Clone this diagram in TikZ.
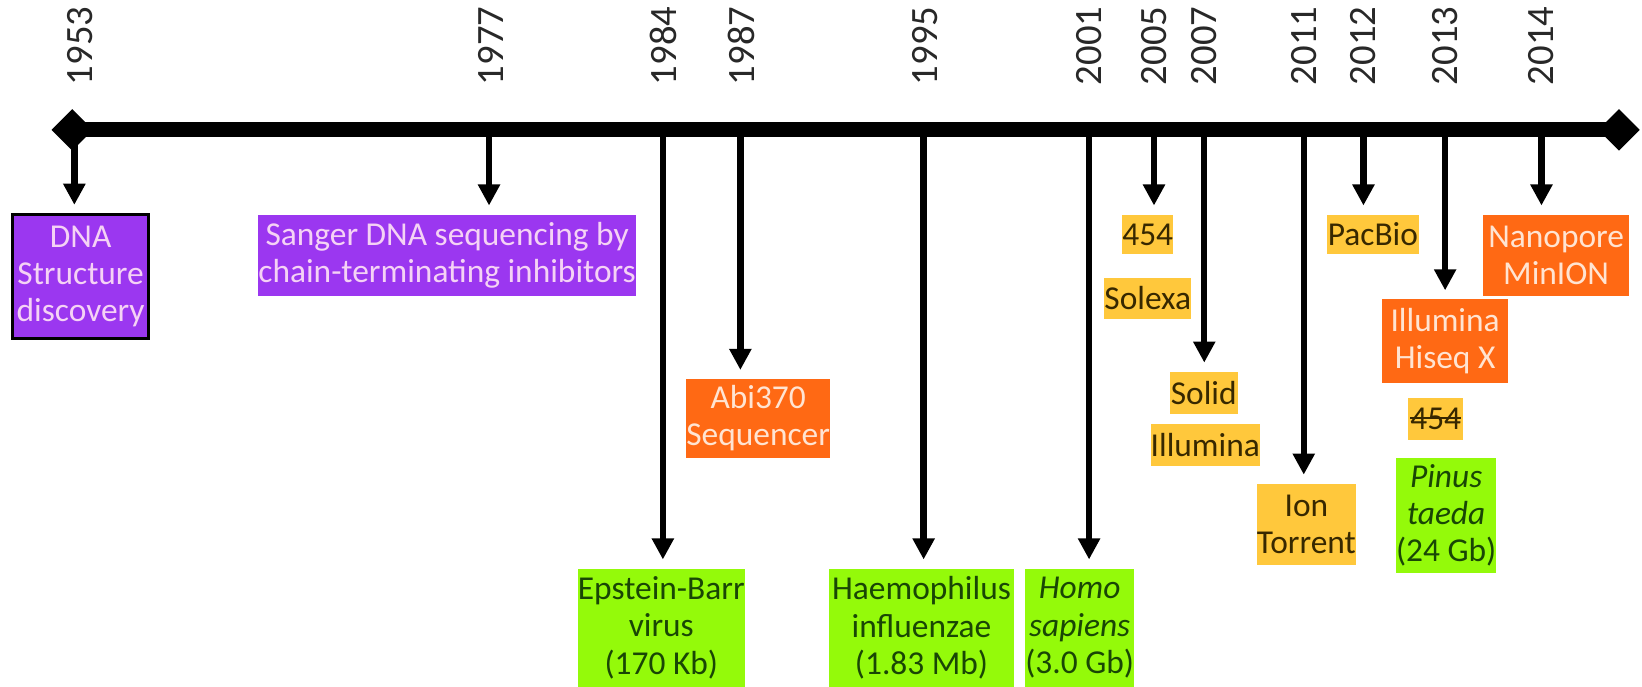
\documentclass[tikz,border=0pt]{standalone}
\usepackage{fontspec}
\setmainfont{Carlito}
\usetikzlibrary{arrows.meta,shapes.geometric}
\newcommand{\strk}[1]{\setbox0\hbox{#1}\rlap{\rule[0.3em]{\wd0}{0.7pt}}#1}
\definecolor{yeargray}{RGB}{40,40,40}
\definecolor{dnapurple}{RGB}{155,55,240}
\definecolor{purptext}{RGB}{245,210,245}
\definecolor{seqorange}{RGB}{255,105,20}
\definecolor{orangetext}{RGB}{255,228,210}
\definecolor{genomegreen}{RGB}{148,250,10}
\definecolor{greentext}{RGB}{25,70,5}
\definecolor{ngsyellow}{RGB}{255,200,60}
\definecolor{yellowtext}{RGB}{55,40,0}
\begin{document}
\begin{tikzpicture}[x=0.01047cm, y=-0.01047cm,
	yr/.style={rotate=90, anchor=west, inner sep=0pt, text=yeargray, font=\fontsize{11}{13}\selectfont},
	arr/.style={line width=1.8pt, -{Triangle[length=6pt,width=6pt]}, shorten >=2.4pt},
	evt/.style={inner sep=0pt, align=center, font=\fontsize{9.5}{10.6}\selectfont},
	sz/.style 2 args={minimum width=#1*0.01047cm, minimum height=#2*0.01047cm},
	purp/.style={evt, fill=dnapurple, text=purptext},
	orng/.style={evt, fill=seqorange, text=orangetext},
	grn/.style={evt, fill=genomegreen, text=greentext},
	ylw/.style={evt, fill=ngsyellow, text=yellowtext}]
	\useasboundingbox (0,0) rectangle (1568,656);

	% time axis
	\node[diamond, fill=black, inner sep=0pt, minimum size=0.42cm] (lend) at (69,124) {};
	\node[diamond, fill=black, inner sep=0pt, minimum size=0.42cm] (rend) at (1546,124) {};
	\draw[line width=4.2pt] (lend.center) -- (rend.center);

	\coordinate (t1953) at (71,124);
	\coordinate (t1977) at (467,124);
	\coordinate (t1984) at (633,124);
	\coordinate (t1987) at (707,124);
	\coordinate (t1995) at (882,124);
	\coordinate (t2001) at (1040,124);
	\coordinate (t2005) at (1102,124);
	\coordinate (t2007) at (1150,124);
	\coordinate (t2011) at (1245,124);
	\coordinate (t2012) at (1302,124);
	\coordinate (t2013) at (1380,124);
	\coordinate (t2014) at (1472,124);

	% years
	\node[yr] (l1953) at (76,82) {1953};
	\node[yr] (l1977) at (469,82) {1977};
	\node[yr] (l1984) at (634,82) {1984};
	\node[yr] (l1987) at (708,82) {1987};
	\node[yr] (l1995) at (883,82) {1995};
	\node[yr] (l2001) at (1040,82) {2001};
	\node[yr] (l2005) at (1102,82) {2005};
	\node[yr] (l2007) at (1150,82) {2007};
	\node[yr] (l2011) at (1245,82) {2011};
	\node[yr] (l2012) at (1302,82) {2012};
	\node[yr] (l2013) at (1380,82) {2013};
	\node[yr] (l2014) at (1472,82) {2014};

	% events
	\node[purp, sz={130}{118}, draw=black, line width=0.8pt] (dna) at (77,264) {DNA\\Structure\\discovery};
	\node[purp, sz={360}{78}] (sanger) at (427,244) {Sanger DNA sequencing by\\chain-terminating inhibitors};
	\node[orng, sz={136}{75}] (abi) at (724,399.5) {Abi370\\Sequencer};
	\node[grn, sz={157}{113}] (ebv) at (631.5,599.5) {Epstein-Barr\\virus\\(170 Kb)};
	\node[grn, sz={176}{113}] (haemo) at (880,599.5) {Haemophilus\\influenzae\\(1.83 Mb)};
	\node[grn, sz={82}{113}] (homo) at (1031,599.5) {\textit{Homo}\\\textit{sapiens}\\(3.0 Gb)};
	\node[ylw, sz={48}{38}] (r454) at (1096,224) {454};
	\node[ylw, sz={82}{40}] (solexa) at (1096,285) {Solexa};
	\node[ylw, sz={65}{40}] (solid) at (1149.5,375) {Solid};
	\node[ylw, sz={102}{40}] (illum) at (1151,425) {Illumina};
	\node[ylw, sz={95}{78}] (ion) at (1247.5,501) {Ion\\Torrent};
	\node[ylw, sz={88}{38}] (pacbio) at (1311,224) {PacBio};
	\node[orng, sz={140}{78}] (nano) at (1486,244) {Nanopore\\MinION};
	\node[orng, sz={120}{80}] (hiseq) at (1380,326) {Illumina\\Hiseq X};
	\node[ylw, sz={53}{40}] (old454) at (1371,400) {\strk{454}};
	\node[grn, sz={94}{110}] (pinus) at (1381,492) {\textit{Pinus}\\\textit{taeda}\\(24 Gb)};

	% arrows
	\draw[arr] (t1953) -- (t1953 |- dna.north);
	\draw[arr] (t1977) -- (t1977 |- sanger.north);
	\draw[arr] (t1984) -- (t1984 |- ebv.north);
	\draw[arr] (t1987) -- (t1987 |- abi.north);
	\draw[arr] (t1995) -- (t1995 |- haemo.north);
	\draw[arr] (t2001) -- (t2001 |- homo.north);
	\draw[arr] (t2005) -- (t2005 |- r454.north);
	\draw[arr] (t2007) -- (t2007 |- solid.north);
	\draw[arr] (t2011) -- (t2011 |- ion.north);
	\draw[arr] (t2012) -- (t2012 |- pacbio.north);
	\draw[arr] (t2013) -- (t2013 |- hiseq.north);
	\draw[arr] (t2014) -- (t2014 |- nano.north);
\end{tikzpicture}
\end{document}
